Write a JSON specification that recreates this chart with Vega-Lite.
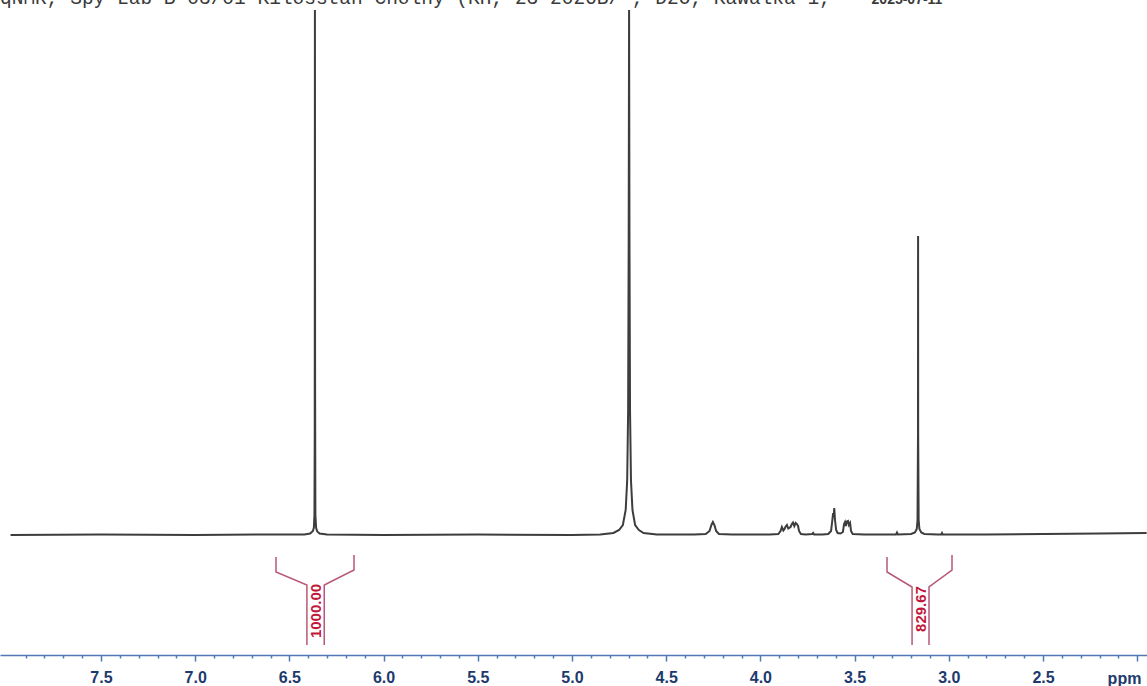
{
  "$schema": "https://vega.github.io/schema/vega-lite/v6.json",
  "width": 1147,
  "height": 655,
  "autosize": {"type": "none"},
  "padding": {"left": 0, "top": 0, "right": 0, "bottom": 31},
  "background": "white",
  "config": {"view": {"stroke": null}},
  "datasets": {
    "spectrum": [
      {"ppm": 7.98, "i": 0}, {"ppm": 7.5, "i": 0.001}, {"ppm": 7.0, "i": 0}, {"ppm": 6.6, "i": 0.001},
      {"ppm": 6.42, "i": 0.001}, {"ppm": 6.39, "i": 0.003}, {"ppm": 6.375, "i": 0.008}, {"ppm": 6.37, "i": 0.015},
      {"ppm": 6.367, "i": 0.04}, {"ppm": 6.3655, "i": 0.2}, {"ppm": 6.3645, "i": 1.05}, {"ppm": 6.3635, "i": 0.3},
      {"ppm": 6.362, "i": 0.04}, {"ppm": 6.358, "i": 0.014}, {"ppm": 6.352, "i": 0.007}, {"ppm": 6.34, "i": 0.003},
      {"ppm": 6.3, "i": 0.001}, {"ppm": 6.0, "i": 0}, {"ppm": 5.5, "i": 0.001}, {"ppm": 5.0, "i": 0},
      {"ppm": 4.85, "i": 0.001}, {"ppm": 4.78, "i": 0.004}, {"ppm": 4.75, "i": 0.01}, {"ppm": 4.73, "i": 0.02},
      {"ppm": 4.715, "i": 0.05}, {"ppm": 4.707, "i": 0.11}, {"ppm": 4.702, "i": 0.25}, {"ppm": 4.699, "i": 0.6},
      {"ppm": 4.697, "i": 1.05}, {"ppm": 4.695, "i": 0.6}, {"ppm": 4.692, "i": 0.25}, {"ppm": 4.687, "i": 0.11},
      {"ppm": 4.679, "i": 0.05}, {"ppm": 4.665, "i": 0.02}, {"ppm": 4.645, "i": 0.01}, {"ppm": 4.62, "i": 0.004},
      {"ppm": 4.55, "i": 0.001}, {"ppm": 4.35, "i": 0.001}, {"ppm": 4.29, "i": 0.002}, {"ppm": 4.27, "i": 0.008},
      {"ppm": 4.26, "i": 0.02}, {"ppm": 4.252, "i": 0.026}, {"ppm": 4.244, "i": 0.02}, {"ppm": 4.235, "i": 0.008},
      {"ppm": 4.22, "i": 0.002}, {"ppm": 4.15, "i": 0.001}, {"ppm": 3.95, "i": 0.001}, {"ppm": 3.905, "i": 0.002},
      {"ppm": 3.893, "i": 0.008}, {"ppm": 3.886, "i": 0.016}, {"ppm": 3.878, "i": 0.009}, {"ppm": 3.872, "i": 0.012},
      {"ppm": 3.866, "i": 0.017}, {"ppm": 3.859, "i": 0.02}, {"ppm": 3.852, "i": 0.013}, {"ppm": 3.84, "i": 0.016},
      {"ppm": 3.833, "i": 0.022}, {"ppm": 3.827, "i": 0.025}, {"ppm": 3.82, "i": 0.018}, {"ppm": 3.813, "i": 0.024},
      {"ppm": 3.807, "i": 0.022}, {"ppm": 3.8, "i": 0.018}, {"ppm": 3.795, "i": 0.008}, {"ppm": 3.785, "i": 0.002},
      {"ppm": 3.76, "i": 0.001}, {"ppm": 3.725, "i": 0.002}, {"ppm": 3.72, "i": 0.004}, {"ppm": 3.715, "i": 0.001},
      {"ppm": 3.67, "i": 0.001}, {"ppm": 3.64, "i": 0.002}, {"ppm": 3.625, "i": 0.008}, {"ppm": 3.618, "i": 0.03},
      {"ppm": 3.614, "i": 0.044}, {"ppm": 3.611, "i": 0.036}, {"ppm": 3.608, "i": 0.054}, {"ppm": 3.604, "i": 0.03},
      {"ppm": 3.598, "i": 0.01}, {"ppm": 3.59, "i": 0.004}, {"ppm": 3.575, "i": 0.003}, {"ppm": 3.562, "i": 0.006},
      {"ppm": 3.556, "i": 0.022}, {"ppm": 3.551, "i": 0.026}, {"ppm": 3.546, "i": 0.018}, {"ppm": 3.541, "i": 0.027},
      {"ppm": 3.535, "i": 0.028}, {"ppm": 3.53, "i": 0.02}, {"ppm": 3.524, "i": 0.024}, {"ppm": 3.519, "i": 0.008},
      {"ppm": 3.51, "i": 0.002}, {"ppm": 3.45, "i": 0.001}, {"ppm": 3.33, "i": 0.001}, {"ppm": 3.28, "i": 0.001},
      {"ppm": 3.275, "i": 0.005}, {"ppm": 3.27, "i": 0.001}, {"ppm": 3.2, "i": 0.002}, {"ppm": 3.18, "i": 0.005},
      {"ppm": 3.17, "i": 0.012}, {"ppm": 3.166, "i": 0.03}, {"ppm": 3.1635, "i": 0.2}, {"ppm": 3.163, "i": 0.598},
      {"ppm": 3.1625, "i": 0.2}, {"ppm": 3.16, "i": 0.03}, {"ppm": 3.156, "i": 0.012}, {"ppm": 3.146, "i": 0.005},
      {"ppm": 3.13, "i": 0.002}, {"ppm": 3.06, "i": 0.001}, {"ppm": 3.04, "i": 0.001}, {"ppm": 3.036, "i": 0.004},
      {"ppm": 3.032, "i": 0.001}, {"ppm": 2.8, "i": 0.001}, {"ppm": 2.5, "i": 0.002}, {"ppm": 2.2, "i": 0.003},
      {"ppm": 1.95, "i": 0.004}
    ],
    "brackets": [
      {"part": "a-left", "k": 0, "ppm": 6.571, "i": -0.044},
      {"part": "a-left", "k": 1, "ppm": 6.571, "i": -0.074},
      {"part": "a-left", "k": 2, "ppm": 6.407, "i": -0.1},
      {"part": "a-left", "k": 3, "ppm": 6.407, "i": -0.22},
      {"part": "a-right", "k": 0, "ppm": 6.157, "i": -0.04},
      {"part": "a-right", "k": 1, "ppm": 6.157, "i": -0.07},
      {"part": "a-right", "k": 2, "ppm": 6.315, "i": -0.1},
      {"part": "a-right", "k": 3, "ppm": 6.315, "i": -0.22},
      {"part": "b-left", "k": 0, "ppm": 3.328, "i": -0.044},
      {"part": "b-left", "k": 1, "ppm": 3.328, "i": -0.074},
      {"part": "b-left", "k": 2, "ppm": 3.195, "i": -0.104},
      {"part": "b-left", "k": 3, "ppm": 3.195, "i": -0.22},
      {"part": "b-right", "k": 0, "ppm": 2.983, "i": -0.04},
      {"part": "b-right", "k": 1, "ppm": 2.983, "i": -0.07},
      {"part": "b-right", "k": 2, "ppm": 3.105, "i": -0.104},
      {"part": "b-right", "k": 3, "ppm": 3.105, "i": -0.22}
    ],
    "integrals": [
      {"ppm": 6.361, "i": -0.152, "value": "1000.00"},
      {"ppm": 3.15, "i": -0.148, "value": "829.67"}
    ],
    "header": [
      {"ppm": 8.036, "i": 1.062, "text": "qNMR, Spy Lab B 03/01 Kilosstan Cholny (KH, 23 2026B/ , D2O, Kawalka 1,"}
    ],
    "stamp": [
      {"ppm": 3.41, "i": 1.062, "text": "2025-07-11"}
    ]
  },
  "layer": [
    {
      "data": {"name": "spectrum"},
      "mark": {"type": "line", "color": "#3d3d3d", "strokeWidth": 2, "interpolate": "linear"},
      "encoding": {
        "x": {
          "field": "ppm", "type": "quantitative", "sort": null,
          "scale": {"domain": [8.036, 1.948], "nice": false, "zero": false},
          "axis": {
            "values": [2.0, 2.1, 2.2, 2.3, 2.4, 2.5, 2.6, 2.7, 2.8, 2.9, 3.0, 3.1, 3.2, 3.3, 3.4, 3.5, 3.6, 3.7, 3.8, 3.9, 4.0, 4.1, 4.2, 4.3, 4.4, 4.5, 4.6, 4.7, 4.8, 4.9, 5.0, 5.1, 5.2, 5.3, 5.4, 5.5, 5.6, 5.7, 5.8, 5.9, 6.0, 6.1, 6.2, 6.3, 6.4, 6.5, 6.6, 6.7, 6.8, 6.9, 7.0, 7.1, 7.2, 7.3, 7.4, 7.5, 7.6, 7.7, 7.8, 7.9],
            "tickCount": 200,
            "labelExpr": "abs(datum.value * 2 - round(datum.value * 2)) < 0.01 && datum.value > 2.2 ? format(datum.value, '.1f') : ''",
            "tickSize": {"condition": {"test": "abs(datum.value * 2 - round(datum.value * 2)) < 0.01", "value": 6}, "value": 3},
            "tickColor": "#4f78b4",
            "tickWidth": 1.5,
            "domainColor": "#4f78b4",
            "domainWidth": 1.5,
            "grid": false,
            "labelFont": "Liberation Sans",
            "labelFontSize": 16,
            "labelFontWeight": "bold",
            "labelColor": "#1d3a6e",
            "labelPadding": 8,
            "labelFlush": false,
            "labelOverlap": false,
            "title": "ppm",
            "titleFont": "Liberation Sans",
            "titleFontSize": 16,
            "titleFontWeight": "bold",
            "titleColor": "#1d3a6e",
            "titleX": 1124,
            "titleY": 28,
            "titleAlign": "center",
            "titleBaseline": "alphabetic",
            "titleAngle": 0
          }
        },
        "y": {
          "field": "i", "type": "quantitative",
          "scale": {"domain": [-0.24, 1.07], "nice": false, "zero": false},
          "axis": null
        }
      }
    },
    {
      "data": {"name": "brackets"},
      "mark": {"type": "line", "color": "#b85878", "strokeWidth": 1.5},
      "encoding": {
        "x": {"field": "ppm", "type": "quantitative"},
        "y": {"field": "i", "type": "quantitative"},
        "detail": {"field": "part"},
        "order": {"field": "k"}
      }
    },
    {
      "data": {"name": "integrals"},
      "mark": {"type": "text", "angle": 270, "align": "center", "baseline": "middle", "font": "Liberation Sans", "fontSize": 15, "fontWeight": "bold", "color": "#c2173c"},
      "encoding": {
        "x": {"field": "ppm", "type": "quantitative"},
        "y": {"field": "i", "type": "quantitative"},
        "text": {"field": "value"}
      }
    },
    {
      "data": {"name": "header"},
      "mark": {"type": "text", "align": "left", "baseline": "alphabetic", "font": "Liberation Mono", "fontSize": 19.5, "color": "#3a3a3a"},
      "encoding": {
        "x": {"field": "ppm", "type": "quantitative"},
        "y": {"field": "i", "type": "quantitative"},
        "text": {"field": "text"}
      }
    },
    {
      "data": {"name": "stamp"},
      "mark": {"type": "text", "align": "left", "baseline": "alphabetic", "font": "Liberation Sans", "fontSize": 14, "fontWeight": "bold", "color": "#3a3a3a"},
      "encoding": {
        "x": {"field": "ppm", "type": "quantitative"},
        "y": {"field": "i", "type": "quantitative"},
        "text": {"field": "text"}
      }
    }
  ]
}
